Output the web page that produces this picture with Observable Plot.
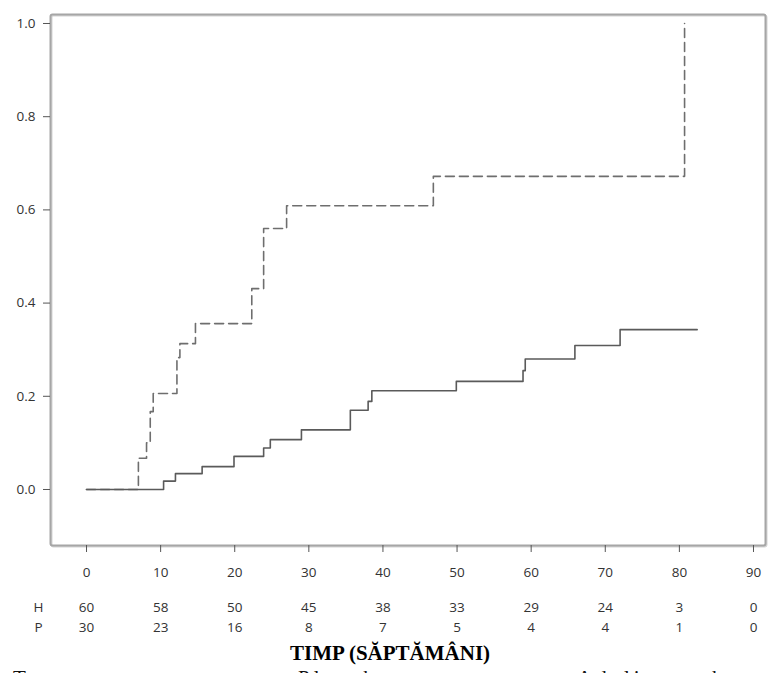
<!DOCTYPE html>
<html><head><meta charset="utf-8">
<script src="https://cdn.jsdelivr.net/npm/d3@7"></script>
<script src="https://cdn.jsdelivr.net/npm/@observablehq/plot@0.6"></script>
<style>
html,body{margin:0;padding:0;background:#fff;overflow:hidden;}
#wrap{position:relative;width:779px;}
#caption{position:relative;height:40px;font-family:"Liberation Serif",serif;font-size:21px;letter-spacing:4px;color:#111;}
#caption span{position:absolute;top:-2px;line-height:1.2;white-space:nowrap;}
</style></head><body><div id="wrap"><div id="chart"></div><div id="caption"></div></div>
<script>
// Placebo (dashed) cumulative incidence step function
const placeboTime  = [0, 7.0, 8.1, 8.6, 9.0, 12.2, 12.6, 14.7, 22.3, 23.9, 27.0, 46.8, 80.7];
const placeboValue = [0, 0.067, 0.10, 0.167, 0.206, 0.283, 0.313, 0.356, 0.431, 0.56, 0.609, 0.672, 1.0];
// Adalimumab (solid)
const adaTime  = [0, 10.4, 12.0, 15.6, 19.9, 23.9, 24.8, 29.0, 35.6, 38.0, 38.5, 49.9, 58.9, 59.2, 65.9, 72.0, 82.4];
const adaValue = [0, 0.018, 0.034, 0.049, 0.071, 0.089, 0.107, 0.128, 0.17, 0.189, 0.212, 0.232, 0.255, 0.28, 0.309, 0.343, 0.343];
// axis ticks
const xTicks = [0, 10, 20, 30, 40, 50, 60, 70, 80, 90];
const yTicks = [0, 0.2, 0.4, 0.6, 0.8, 1.0];
// numbers at risk
const riskLabels = ["H", "P"];
const riskH = [60, 58, 50, 45, 38, 33, 29, 24, 3, 0];
const riskP = [30, 23, 16, 8, 7, 5, 4, 4, 1, 0];
const xTitle = "TIMP (SĂPTĂMÂNI)";
const legendLabels = ["Tratament", "Placebo", "Adalimumab"];
const legendLeft = [13, 298, 577];

const placebo = placeboTime.map((t, i) => ({t, v: placeboValue[i]}));
const ada = adaTime.map((t, i) => ({t, v: adaValue[i]}));
const rowH = xTicks.map((t, i) => ({t, n: riskH[i]}));
const rowP = xTicks.map((t, i) => ({t, n: riskP[i]}));

const FS = 13.5;
const chart = Plot.plot({
  width: 779,
  height: 668,
  marginLeft: 50,
  marginRight: 14,
  marginTop: 14,
  marginBottom: 123,
  style: {fontFamily: "'Open Sans', sans-serif", fontSize: "13.5px", color: "#333", background: "#fff"},
  x: {domain: [-4.86, 91.62]},
  y: {domain: [-0.1202, 1.0193]},
  marks: [
    Plot.frame({stroke: "#d4d4d4", strokeWidth: 2, dx: 1, dy: 1, rx: 2}),
    Plot.frame({stroke: "#a6a6a6", strokeWidth: 2, rx: 2}),
    Plot.axisX({ticks: xTicks, tickSize: 7, tickPadding: 15, tickFormat: d => String(d), label: null, stroke: "#555", fill: "#333", fontSize: FS}),
    Plot.axisY({ticks: yTicks, tickSize: 7, tickPadding: 8, tickFormat: d => d.toFixed(1), label: null, stroke: "#555", fill: "#333", fontSize: FS}),
    Plot.line(placebo, {x: "t", y: "v", curve: "step-after", stroke: "#6e6e6e", strokeWidth: 1.6, strokeDasharray: "9,5"}),
    Plot.line(ada, {x: "t", y: "v", curve: "step-after", stroke: "#5a5a5a", strokeWidth: 1.6}),
    Plot.text(rowH, {x: "t", text: "n", frameAnchor: "bottom", dy: 62, lineAnchor: "middle", fill: "#333", fontSize: FS}),
    Plot.text(rowP, {x: "t", text: "n", frameAnchor: "bottom", dy: 82, lineAnchor: "middle", fill: "#333", fontSize: FS}),
    Plot.text([riskLabels[0]], {text: d => d, frameAnchor: "bottom-left", dx: -12, dy: 62, lineAnchor: "middle", textAnchor: "middle", fill: "#333", fontSize: FS}),
    Plot.text([riskLabels[1]], {text: d => d, frameAnchor: "bottom-left", dx: -12, dy: 82, lineAnchor: "middle", textAnchor: "middle", fill: "#333", fontSize: FS}),
    Plot.text([xTitle], {text: d => d, frameAnchor: "bottom", dx: -18, dy: 107.5, lineAnchor: "middle", fontFamily: "'Liberation Serif', serif", fontWeight: "bold", fontSize: 21, fill: "#000"})
  ]
});
document.getElementById("chart").appendChild(chart);

const cap = document.getElementById("caption");
legendLabels.forEach((s, i) => {
  const sp = document.createElement("span");
  sp.textContent = s;
  sp.style.left = legendLeft[i] + "px";
  cap.appendChild(sp);
});
</script></body></html>
